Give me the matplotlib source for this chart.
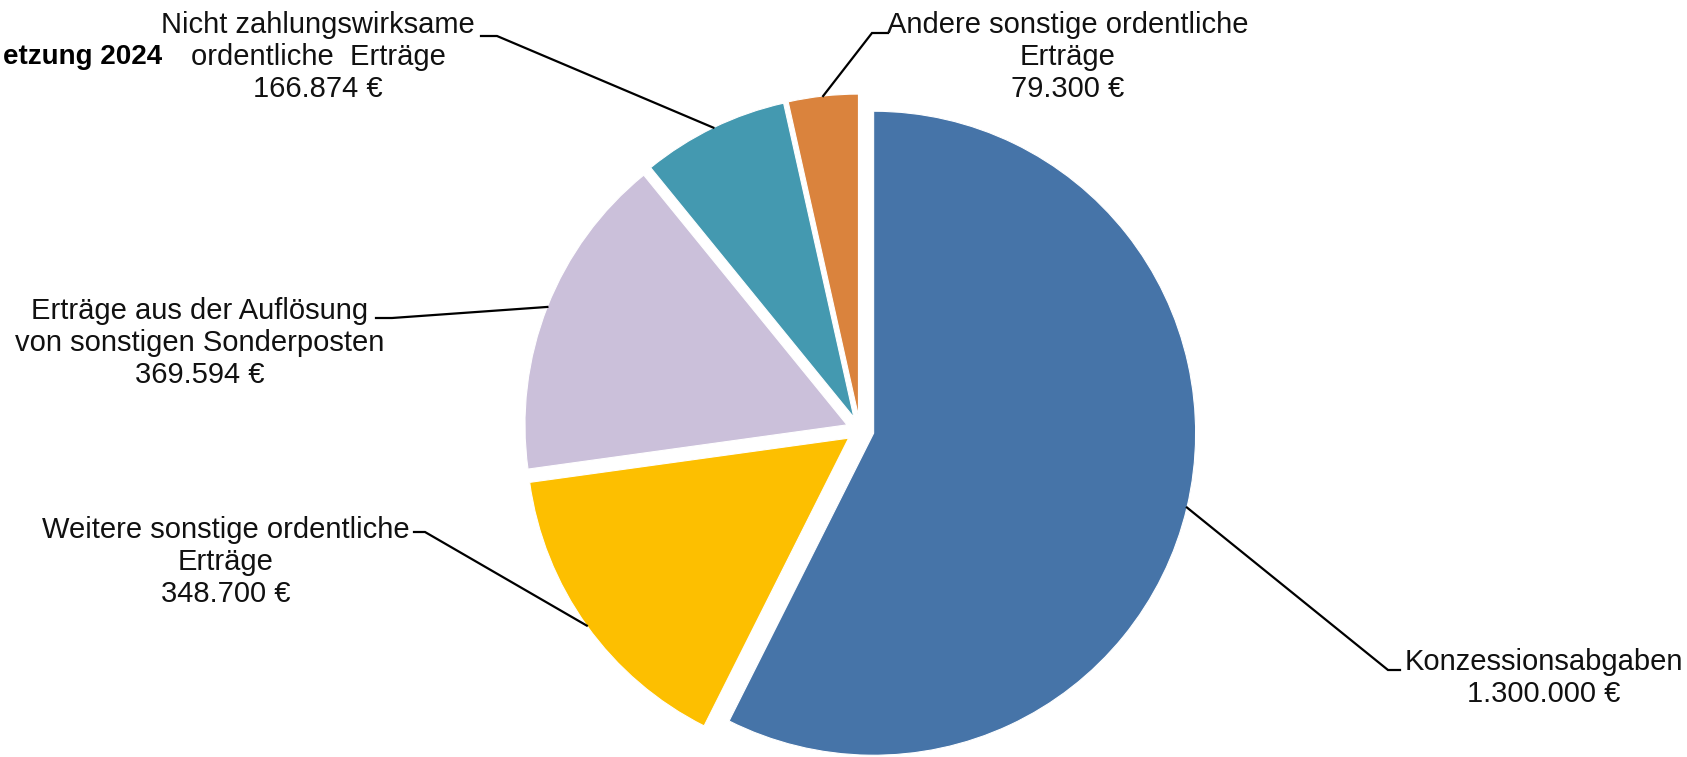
import numpy as np
import matplotlib.pyplot as plt

plt.rcParams["font.family"] = ["Liberation Sans", "DejaVu Sans"]

labels = [
    "Konzessionsabgaben",
    "Weitere sonstige ordentliche\nErträge",
    "Erträge aus der Auflösung\nvon sonstigen Sonderposten",
    "Nicht zahlungswirksame\nordentliche  Erträge",
    "Andere sonstige ordentliche\nErträge",
]
values = [1300000, 348700, 369594, 166874, 79300]
colors = ["#4674A8", "#FDBF00", "#CBC0DA", "#4499B0", "#DA833D"]

W, H = 1687, 757
fig = plt.figure(figsize=(W / 100, H / 100), dpi=100)
ax = fig.add_axes([0, 0, 1, 1])

# pie in pixel units (y up); explode is absolute here
cx, cy, r = 860, H - 430, 322
wedges, _ = ax.pie(values, colors=colors, startangle=90, counterclock=False,
                   center=(cx, cy), radius=r, explode=[14] * 5,
                   wedgeprops=dict(edgecolor="white", linewidth=0.8))
ax.set_xlim(0, W)
ax.set_ylim(0, H)
ax.set_aspect("equal")
ax.axis("off")

# label layout (pixels, y from top): text centre, elbow, stub end
layout = [
    ((1544, 678), (1388, 670), (1400, 670)),
    ((226, 562), (425, 532), (414, 532)),
    ((200, 343), (392, 318), (376, 318)),
    ((318, 57), (497, 36), (481, 36)),
    ((1068, 57), (872, 33), (888, 33)),
]

def fmt(v):
    return f"{v:,}".replace(",", ".") + " €"

for w, lab, v, (txt, elb, stub) in zip(wedges, labels, values, layout):
    ang = np.deg2rad((w.theta1 + w.theta2) / 2)
    ox, oy = w.center
    px = ox + w.r * np.cos(ang)
    py = oy + w.r * np.sin(ang)
    ax.plot([px, elb[0], stub[0]], [py, H - elb[1], H - stub[1]],
            color="black", lw=1.6, solid_joinstyle="miter")
    ax.text(txt[0], H - txt[1], lab + "\n" + fmt(v), ha="center", va="center",
            fontsize=21, linespacing=1.2, color="#111111")

ax.text(162, H - 57, "etzung 2024", ha="right", va="center",
        fontsize=20, fontweight="bold", color="black")

fig.savefig("out.png", dpi=100)
